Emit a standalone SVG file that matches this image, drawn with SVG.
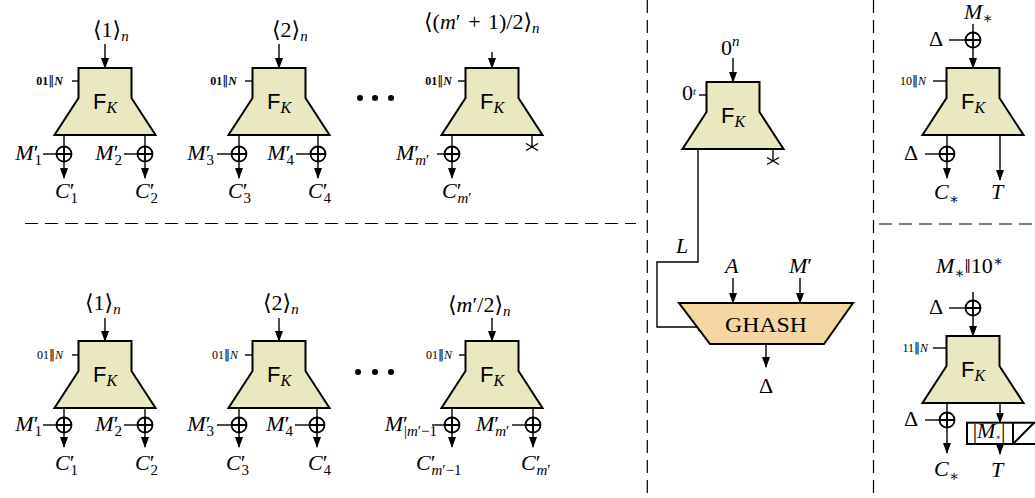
<svg xmlns="http://www.w3.org/2000/svg" width="1035" height="498" viewBox="0 0 1035 498">
<style>
.blk{fill:#E9E8C1;stroke:#000;stroke-width:2;stroke-linejoin:miter}
.gh{fill:#F4D7A2;stroke:#000;stroke-width:2}
.ln{fill:none;stroke:#000;stroke-width:1.4}
.ar{fill:none;stroke:#000;stroke-width:1.4;marker-end:url(#ah)}
.dash{fill:none;stroke:#000;stroke-width:1.2;stroke-dasharray:13 7}
.xo{fill:none;stroke:#000;stroke-width:1.8}
text{font-family:"Liberation Serif","DejaVu Serif",serif;font-size:22px;fill:#000}
.it{font-style:italic}
.sb{font-size:15px}
.fk{font-family:"Liberation Sans","DejaVu Sans",sans-serif;font-size:22px}
.k{font-family:"Liberation Serif","DejaVu Serif",serif;font-style:italic;font-size:16px}
.sm{font-size:12px}
.smb{font-size:12px;font-weight:bold}
.bar{font-family:"DejaVu Sans",sans-serif;font-weight:normal}
</style>
<defs>
<marker id="ah" markerUnits="userSpaceOnUse" markerWidth="11" markerHeight="8" refX="10" refY="4" orient="auto"><path d="M0,0 L11,4 L0,8 Z" fill="#000"/></marker>
<path id="blkshape" d="M-26.5,0 H26.5 V30 L50.5,67 H-50.5 L-26.5,30 Z"/>
<g id="xor"><circle r="7.5"/><path d="M-7.5,0 H7.5 M0,-7.5 V7.5"/></g>
<path id="cut" d="M-6,-3.5 L6,3.5 M-6,3.5 L6,-3.5"/>
</defs>

<g id="separators">
<line class="dash" x1="25" y1="223.5" x2="636" y2="223.5"/>
<line class="dash" x1="879" y1="224" x2="1035" y2="224"/>
<line class="dash" x1="647.3" y1="0" x2="647.3" y2="498"/>
<line class="dash" x1="873.5" y1="0" x2="873.5" y2="498"/>
</g>

<g id="connectors">
<line class="ar" x1="105" y1="44" x2="105" y2="68"/>
<line class="ar" x1="72" y1="81" x2="90" y2="81"/>
<line class="ar" x1="64" y1="135" x2="64" y2="178"/>
<line class="ar" x1="145" y1="135" x2="145" y2="178"/>
<line class="ln" x1="43" y1="154" x2="56.5" y2="154"/>
<line class="ln" x1="124" y1="154" x2="137.5" y2="154"/>

<line class="ar" x1="279" y1="44" x2="279" y2="68"/>
<line class="ar" x1="245" y1="81" x2="263" y2="81"/>
<line class="ar" x1="239" y1="135" x2="239" y2="178"/>
<line class="ar" x1="318" y1="135" x2="318" y2="178"/>
<line class="ln" x1="217" y1="154" x2="231.5" y2="154"/>
<line class="ln" x1="296" y1="154" x2="310.5" y2="154"/>

<line class="ar" x1="492" y1="52" x2="492" y2="68"/>
<line class="ar" x1="458" y1="81" x2="477" y2="81"/>
<line class="ar" x1="452" y1="135" x2="452" y2="178"/>
<line class="ln" x1="437" y1="154" x2="444.5" y2="154"/>
<line class="ln" x1="532" y1="135" x2="532" y2="147"/>
<use href="#cut" class="ln" x="532" y="147"/>

<line class="ar" x1="105" y1="318" x2="105" y2="341"/>
<line class="ar" x1="72" y1="355" x2="90" y2="355"/>
<line class="ar" x1="64" y1="408" x2="64" y2="447"/>
<line class="ar" x1="145" y1="408" x2="145" y2="447"/>
<line class="ln" x1="43" y1="425" x2="56.5" y2="425"/>
<line class="ln" x1="124" y1="425" x2="137.5" y2="425"/>

<line class="ar" x1="279" y1="318" x2="279" y2="341"/>
<line class="ar" x1="245" y1="355" x2="263" y2="355"/>
<line class="ar" x1="239" y1="408" x2="239" y2="447"/>
<line class="ar" x1="317" y1="408" x2="317" y2="447"/>
<line class="ln" x1="217" y1="425" x2="231.5" y2="425"/>
<line class="ln" x1="295" y1="425" x2="309.5" y2="425"/>

<line class="ar" x1="492" y1="318" x2="492" y2="341"/>
<line class="ar" x1="459" y1="355" x2="477" y2="355"/>
<line class="ar" x1="452" y1="408" x2="452" y2="447"/>
<line class="ar" x1="533" y1="408" x2="533" y2="447"/>
<line class="ln" x1="432" y1="425" x2="444.5" y2="425"/>
<line class="ln" x1="512" y1="425" x2="525.5" y2="425"/>

<line class="ar" x1="733" y1="58" x2="733" y2="82"/>
<line class="ar" x1="699" y1="95" x2="717" y2="95"/>
<line class="ln" x1="773" y1="149" x2="773" y2="161"/>
<use href="#cut" class="ln" x="773" y="161"/>
<path class="ar" d="M698,149 V262 H657 V327 H708"/>
<line class="ar" x1="733" y1="278" x2="733" y2="303"/>
<line class="ar" x1="800" y1="278" x2="800" y2="303"/>
<line class="ar" x1="766" y1="344" x2="766" y2="367"/>

<line class="ln" x1="973" y1="24" x2="973" y2="32.5"/>
<line class="ln" x1="949" y1="40" x2="965.5" y2="40"/>
<line class="ar" x1="973" y1="47.5" x2="973" y2="68"/>
<line class="ar" x1="933" y1="81" x2="957" y2="81"/>
<line class="ar" x1="947" y1="135" x2="947" y2="178"/>
<line class="ln" x1="925" y1="154" x2="939.5" y2="154"/>
<line class="ar" x1="1000" y1="135" x2="1000" y2="180"/>

<line class="ln" x1="973" y1="292" x2="973" y2="300.5"/>
<line class="ln" x1="949" y1="308" x2="965.5" y2="308"/>
<line class="ar" x1="973" y1="315.5" x2="973" y2="336"/>
<line class="ar" x1="933" y1="348" x2="957" y2="348"/>
<line class="ar" x1="947" y1="403" x2="947" y2="453"/>
<line class="ln" x1="925" y1="420" x2="939.5" y2="420"/>
<line class="ar" x1="1000" y1="403" x2="1000" y2="422.5"/>
<line class="ar" x1="1000" y1="444" x2="1000" y2="454"/>
</g>

<g id="fk-top-1">
<use href="#blkshape" class="blk" x="105" y="68"/>
<text class="fk" x="105" y="109" text-anchor="middle">F<tspan class="k" dy="4">K</tspan></text>
<text class="smb" x="63" y="85" text-anchor="end">01<tspan class="bar">‖</tspan><tspan class="it">N</tspan></text>
<text x="93" y="37">⟨1⟩<tspan class="it sb" dy="4">n</tspan></text>
</g>
<g id="fk-top-2">
<use href="#blkshape" class="blk" x="279" y="68"/>
<text class="fk" x="279" y="109" text-anchor="middle">F<tspan class="k" dy="4">K</tspan></text>
<text class="smb" x="237" y="85" text-anchor="end">01<tspan class="bar">‖</tspan><tspan class="it">N</tspan></text>
<text x="272" y="37">⟨2⟩<tspan class="it sb" dy="4">n</tspan></text>
</g>
<g id="fk-top-3">
<use href="#blkshape" class="blk" x="492" y="68"/>
<text class="fk" x="492" y="109" text-anchor="middle">F<tspan class="k" dy="4">K</tspan></text>
<text class="smb" x="452" y="85" text-anchor="end">01<tspan class="bar">‖</tspan><tspan class="it">N</tspan></text>
<text x="424" y="29" word-spacing="2">⟨(<tspan class="it">m</tspan>′ + 1)/2⟩<tspan class="it sb" dy="4">n</tspan></text>
</g>
<g id="dots-top">
<circle cx="360" cy="98" r="3"/><circle cx="375" cy="98" r="3"/><circle cx="391" cy="98" r="3"/>
</g>
<g id="xor-top" class="xo">
<use href="#xor" x="64" y="154"/><use href="#xor" x="145" y="154"/>
<use href="#xor" x="239" y="154"/><use href="#xor" x="318" y="154"/>
<use href="#xor" x="452" y="154"/>
</g>
<g id="labels-top">
<text x="42" y="160" text-anchor="end"><tspan class="it">M</tspan>′<tspan class="sb" dx="-4" dy="5">1</tspan></text>
<text x="122" y="160" text-anchor="end"><tspan class="it">M</tspan>′<tspan class="sb" dx="-4" dy="5">2</tspan></text>
<text x="214" y="160" text-anchor="end"><tspan class="it">M</tspan>′<tspan class="sb" dx="-4" dy="5">3</tspan></text>
<text x="294" y="160" text-anchor="end"><tspan class="it">M</tspan>′<tspan class="sb" dx="-4" dy="5">4</tspan></text>
<text x="396" y="160"><tspan class="it">M</tspan>′<tspan class="sb it" dx="-4" dy="5">m</tspan><tspan class="sb">′</tspan></text>
<text x="55" y="198"><tspan class="it">C</tspan>′<tspan class="sb" dx="-4" dy="5">1</tspan></text>
<text x="135" y="198"><tspan class="it">C</tspan>′<tspan class="sb" dx="-4" dy="5">2</tspan></text>
<text x="228" y="198"><tspan class="it">C</tspan>′<tspan class="sb" dx="-4" dy="5">3</tspan></text>
<text x="308" y="198"><tspan class="it">C</tspan>′<tspan class="sb" dx="-4" dy="5">4</tspan></text>
<text x="442" y="198"><tspan class="it">C</tspan>′<tspan class="sb it" dx="-4" dy="5">m</tspan><tspan class="sb">′</tspan></text>
</g>

<g id="fk-bot-1">
<use href="#blkshape" class="blk" x="105" y="341"/>
<text class="fk" x="105" y="382" text-anchor="middle">F<tspan class="k" dy="4">K</tspan></text>
<text class="sm" x="63" y="359" text-anchor="end">01<tspan class="bar">‖</tspan><tspan class="it">N</tspan></text>
<text x="85" y="310">⟨1⟩<tspan class="it sb" dy="4">n</tspan></text>
</g>
<g id="fk-bot-2">
<use href="#blkshape" class="blk" x="279" y="341"/>
<text class="fk" x="279" y="382" text-anchor="middle">F<tspan class="k" dy="4">K</tspan></text>
<text class="sm" x="238" y="359" text-anchor="end">01<tspan class="bar">‖</tspan><tspan class="it">N</tspan></text>
<text x="263" y="310">⟨2⟩<tspan class="it sb" dy="4">n</tspan></text>
</g>
<g id="fk-bot-3">
<use href="#blkshape" class="blk" x="492" y="341"/>
<text class="fk" x="492" y="382" text-anchor="middle">F<tspan class="k" dy="4">K</tspan></text>
<text class="sm" x="452" y="359" text-anchor="end">01<tspan class="bar">‖</tspan><tspan class="it">N</tspan></text>
<text x="448" y="312">⟨<tspan class="it">m</tspan>′/2⟩<tspan class="it sb" dy="4">n</tspan></text>
</g>
<g id="dots-bot">
<circle cx="358" cy="372" r="3"/><circle cx="375" cy="372" r="3"/><circle cx="391" cy="372" r="3"/>
</g>
<g id="xor-bot" class="xo">
<use href="#xor" x="64" y="425"/><use href="#xor" x="145" y="425"/>
<use href="#xor" x="239" y="425"/><use href="#xor" x="317" y="425"/>
<use href="#xor" x="452" y="425"/><use href="#xor" x="533" y="425"/>
</g>
<g id="labels-bot">
<text x="42" y="431" text-anchor="end"><tspan class="it">M</tspan>′<tspan class="sb" dx="-4" dy="5">1</tspan></text>
<text x="122" y="431" text-anchor="end"><tspan class="it">M</tspan>′<tspan class="sb" dx="-4" dy="5">2</tspan></text>
<text x="214" y="431" text-anchor="end"><tspan class="it">M</tspan>′<tspan class="sb" dx="-4" dy="5">3</tspan></text>
<text x="293" y="431" text-anchor="end"><tspan class="it">M</tspan>′<tspan class="sb" dx="-4" dy="5">4</tspan></text>
<text x="437" y="431" text-anchor="end"><tspan class="it">M</tspan>′<tspan class="sb" dx="-4" dy="5">|<tspan class="it">m</tspan>′−1</tspan></text>
<text x="476" y="431"><tspan class="it">M</tspan>′<tspan class="sb it" dx="-4" dy="5">m</tspan><tspan class="sb">′</tspan></text>
<text x="55" y="470"><tspan class="it">C</tspan>′<tspan class="sb" dx="-4" dy="5">1</tspan></text>
<text x="135" y="470"><tspan class="it">C</tspan>′<tspan class="sb" dx="-4" dy="5">2</tspan></text>
<text x="226" y="470"><tspan class="it">C</tspan>′<tspan class="sb" dx="-4" dy="5">3</tspan></text>
<text x="308" y="470"><tspan class="it">C</tspan>′<tspan class="sb" dx="-4" dy="5">4</tspan></text>
<text x="416" y="470"><tspan class="it">C</tspan>′<tspan class="sb" dx="-4" dy="5"><tspan class="it">m</tspan>′−1</tspan></text>
<text x="521" y="470"><tspan class="it">C</tspan>′<tspan class="sb it" dx="-4" dy="5">m</tspan><tspan class="sb">′</tspan></text>
</g>

<g id="fk-mid">
<use href="#blkshape" class="blk" x="733" y="82"/>
<text class="fk" x="733" y="123" text-anchor="middle">F<tspan class="k" dy="4">K</tspan></text>
<text x="721" y="55">0<tspan class="it sb" dy="-9">n</tspan></text>
<text font-size="13" x="682" y="100">0<tspan class="it" font-size="10" dy="-5">t</tspan></text>
</g>
<g id="ghash">
<polygon class="gh" points="679,303 853,303 824,344 710,344"/>
<text x="766" y="332" text-anchor="middle" font-size="24" textLength="82" lengthAdjust="spacingAndGlyphs">GHASH</text>
<text class="it" x="676" y="253">L</text>
<text class="it" x="725" y="273">A</text>
<text x="789" y="273"><tspan class="it">M</tspan>′</text>
<text x="766" y="393" text-anchor="middle">Δ</text>
</g>

<g id="fk-right-top">
<use href="#blkshape" class="blk" x="973" y="68"/>
<text class="fk" x="973" y="109" text-anchor="middle">F<tspan class="k" dy="4">K</tspan></text>
<text class="sm" x="926" y="85" text-anchor="end">10<tspan class="bar">‖</tspan><tspan class="it">N</tspan></text>
<text x="964" y="19"><tspan class="it">M</tspan><tspan class="sb" dy="4">∗</tspan></text>
<text x="929" y="46">Δ</text>
<text x="904" y="160">Δ</text>
<text x="934" y="199"><tspan class="it">C</tspan><tspan class="sb" dy="5">∗</tspan></text>
<text class="it" x="991" y="199">T</text>
<g class="xo"><use href="#xor" x="973" y="40"/><use href="#xor" x="947" y="154"/></g>
</g>

<g id="fk-right-bot">
<use href="#blkshape" class="blk" x="973" y="336"/>
<text class="fk" x="973" y="377" text-anchor="middle">F<tspan class="k" dy="4">K</tspan></text>
<text class="sm" x="928" y="352" text-anchor="end">11<tspan class="bar">‖</tspan><tspan class="it">N</tspan></text>
<text x="936" y="273"><tspan class="it">M</tspan><tspan class="sb" dy="5">∗</tspan><tspan dy="-5">‖10</tspan><tspan class="sb" dy="-7">∗</tspan></text>
<text x="929" y="314">Δ</text>
<text x="904" y="426">Δ</text>
<text x="934" y="476"><tspan class="it">C</tspan><tspan class="sb" dy="5">∗</tspan></text>
<text class="it" x="991" y="477">T</text>
<g class="xo"><use href="#xor" x="973" y="308"/><use href="#xor" x="947" y="420"/></g>
</g>
<g id="trunc">
<rect x="967" y="422.7" width="75" height="21.3" fill="#fff" stroke="#000" stroke-width="2"/>
<line x1="1013" y1="422.7" x2="1013" y2="444" stroke="#000" stroke-width="2"/>
<line x1="1013" y1="444" x2="1034" y2="422.7" stroke="#000" stroke-width="2"/>
<text x="989" y="438" text-anchor="middle" font-size="11">|<tspan class="it">M</tspan><tspan font-size="8" dy="2">∗</tspan><tspan dy="-2">|</tspan></text>
</g>
</svg>
